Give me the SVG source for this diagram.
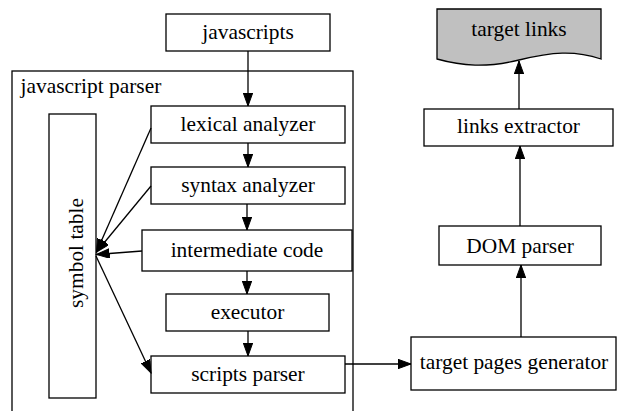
<svg xmlns="http://www.w3.org/2000/svg" width="618" height="411" viewBox="0 0 618 411">
<style>
rect, path.shape { fill: #fff; stroke: #000; stroke-width: 1.3; }
text { font-family: "Liberation Serif", "Times New Roman", serif; font-size: 21.4px; fill: #000; text-anchor: middle; }
.edge { fill: none; stroke: #000; stroke-width: 1.3; marker-end: url(#ah); }
</style>
<defs>
<marker id="ah" markerUnits="userSpaceOnUse" markerWidth="14" markerHeight="10" refX="13" refY="4.7" orient="auto">
<path d="M0,0 L13,4.7 L0,9.4 Z" fill="#000" stroke="#000" stroke-width="1"/>
</marker>
</defs>
<rect fill="#fff" stroke="none" x="0" y="0" width="618" height="411" style="stroke:none"/>
<g id="cluster-javascript-parser">
<rect x="12" y="71" width="341" height="350"/>
<text x="20.5" y="93" style="text-anchor:start">javascript parser</text>
</g>
<g id="javascripts"><rect x="166" y="14" width="164" height="37"/><text x="248" y="39">javascripts</text></g>
<g id="symbol-table"><rect x="49" y="114" width="47" height="284"/><text transform="translate(82.5,253) rotate(-90)">symbol table</text></g>
<g id="lexical-analyzer"><rect x="151" y="106" width="194" height="37"/><text x="248" y="131">lexical analyzer</text></g>
<g id="syntax-analyzer"><rect x="151" y="167" width="194" height="37"/><text x="248" y="192">syntax analyzer</text></g>
<g id="intermediate-code"><rect x="142" y="230" width="210" height="41"/><text x="247" y="257">intermediate code</text></g>
<g id="executor"><rect x="166" y="294" width="163" height="37"/><text x="247.5" y="319">executor</text></g>
<g id="scripts-parser"><rect x="151" y="356" width="194" height="37"/><text x="248" y="381">scripts parser</text></g>
<g id="target-pages-generator"><rect x="411" y="337" width="205" height="53"/><text x="514" y="369">target pages generator</text></g>
<g id="dom-parser"><rect x="439" y="226" width="162" height="39"/><text x="520" y="253">DOM parser</text></g>
<g id="links-extractor"><rect x="424" y="109" width="189" height="37"/><text x="518.5" y="133">links extractor</text></g>
<g id="target-links"><path class="shape" style="fill:#c0c0c0" d="M437,9 L601,9 L601,59 C574,50 552,52 519,60 C486,68 462,66 437,59 Z"/><text x="519" y="36">target links</text></g>
<g id="connectors">
<path class="edge" d="M248,51 L248,106"/>
<path class="edge" d="M248,143 L248,167"/>
<path class="edge" d="M247,204 L247,230"/>
<path class="edge" d="M247,271 L247,294"/>
<path class="edge" d="M248,331 L248,356"/>
<path class="edge" d="M151,128 L96.5,252"/>
<path class="edge" d="M151,186 L96.5,252"/>
<path class="edge" d="M142,251 L96.5,254.5"/>
<path class="edge" d="M96,256 L151,373"/>
<path class="edge" d="M345,364 L411,364"/>
<path class="edge" d="M521,337 L521,265"/>
<path class="edge" d="M520,226 L520,146"/>
<path class="edge" d="M519,109 L519,61"/>
</g>
</svg>
